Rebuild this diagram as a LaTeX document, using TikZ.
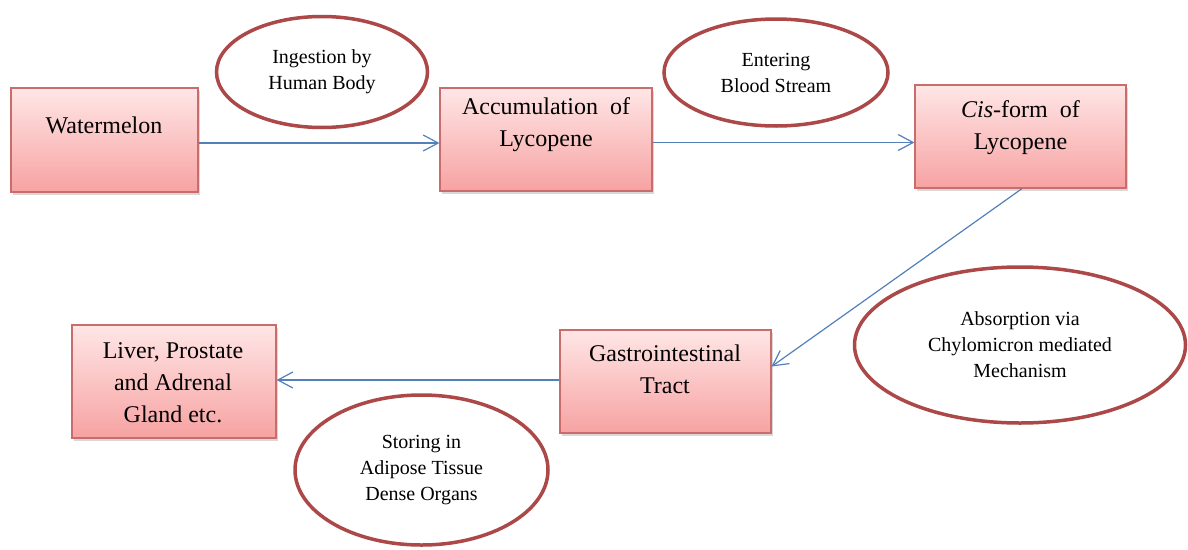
\documentclass[tikz,border=0pt]{standalone}
\usepackage{fontspec}
\setmainfont{Liberation Serif}
\usetikzlibrary{arrows.meta}
\usetikzlibrary{shapes,shadows}
\usetikzlibrary{positioning}
\definecolor{boxtop}{RGB}{255,230,230}
\definecolor{boxbot}{RGB}{247,162,162}
\definecolor{boxline}{RGB}{200,108,108}
\definecolor{ovalline}{RGB}{172,72,72}
\definecolor{arrowblue}{RGB}{84,128,186}
\tikzstyle{box}=[rectangle,draw=boxline,line width=1.2pt,top color=boxtop,bottom color=boxbot,drop shadow={shadow xshift=1.5pt,shadow yshift=-2.5pt,opacity=0.3}]
\tikzstyle{boxtxt}=[align=center,inner sep=0pt,font=\fontsize{24}{32}\selectfont]
\tikzstyle{oval}=[ellipse,draw=ovalline,line width=3.5pt,inner sep=0pt,align=center,font=\fontsize{20}{26}\selectfont]
\tikzstyle{flow}=[draw=arrowblue,line width=1.2pt,-{Straight Barb[length=15pt,width=16pt,line width=1.2pt]}]

\begin{document}
\begin{tikzpicture}[x=1pt,y=-1pt]
\useasboundingbox (0,0) rectangle (1188,549);
\fill[white] (0,0) rectangle (1188,549);

\node [box,minimum width=187pt,minimum height=104pt] (w) at (104.5,140) {};
\node [box,minimum width=212pt,minimum height=103pt] (acc) at (546,139.5) {};
\node [box,minimum width=211pt,minimum height=103pt] (cis) at (1020.5,136.5) {};
\node [box,minimum width=211pt,minimum height=103pt] (gi) at (665.5,381.5) {};
\node [box,minimum width=204pt,minimum height=113pt] (liv) at (174,381.5) {};

\node [boxtxt] (wt) at (104,125) {Watermelon};
\node [boxtxt] (acct) at (546,124.5) {Accumulation \ of\\Lycopene};
\node [boxtxt] (cist) at (1020.5,128) {\textit{Cis}-form \ of\\Lycopene};
\node [boxtxt] (git) at (665,369.5) {Gastrointestinal\\Tract};
\node [boxtxt] (livt) at (173,383) {Liver, Prostate\\and Adrenal\\Gland etc.};

\node [oval,minimum width=211pt,minimum height=111pt] (ing) at (322,72) {Ingestion by\\Human Body};
\node [oval,minimum width=224pt,minimum height=107pt] (ent) at (776,72.5) {Entering\\Blood Stream};
\node [oval,minimum width=331pt,minimum height=156pt] (abs) at (1020,345) {Absorption via\\Chylomicron mediated\\Mechanism};
\node [oval,minimum width=253pt,minimum height=150pt] (sto) at (421.5,470) {Storing in\\Adipose Tissue\\Dense Organs};

\draw [flow] ([yshift=-3pt]w.east) -- ([yshift=-3pt]w.east -| acc.west);
\draw [flow] ([yshift=-3pt]acc.east) -- ([yshift=-3pt]acc.east -| cis.west);
\draw [flow] ([xshift=1.5pt]cis.south) -- ([yshift=15pt]gi.east);
\draw [flow] ([yshift=1.5pt]gi.west) -- ([yshift=1.5pt]gi.west -| liv.east);
\end{tikzpicture}
\end{document}
